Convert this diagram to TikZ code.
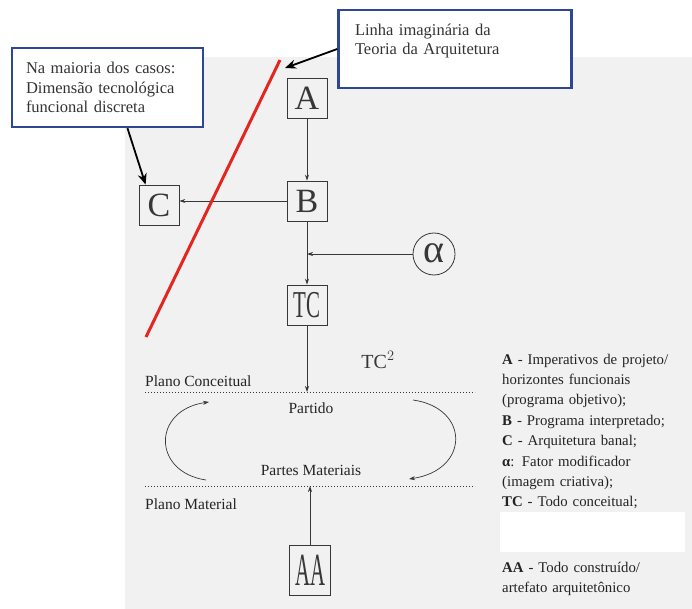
\documentclass[tikz,border=0pt]{standalone}
\usepackage{fontspec}
\setmainfont{Liberation Serif}
\usetikzlibrary{arrows.meta,positioning}

\tikzset{
	letterbox/.style={draw=inkColour, line width=0.8pt, inner sep=0pt, minimum width=40pt, minimum height=40pt, text=inkColour, font=\fontsize{34}{34}\selectfont},
	modifier/.style={circle, draw=inkColour, line width=0.8pt, inner sep=0pt, minimum size=42pt, text=inkColour, font=\fontsize{40}{40}\selectfont},
	callout/.style={draw=calloutColour, line width=2.5pt, fill=white, align=left, inner sep=0pt, text=black!80, font=\fontsize{16.5}{19.5}\selectfont},
	pointer/.style={black, line width=1.8pt, -{Stealth[length=11pt, width=9pt]}},
	flow/.style={draw=inkColour, line width=0.7pt, -{Stealth[length=6pt, width=4pt]}},
	planeline/.style={draw=inkColour, dotted, line width=1pt},
	planelabel/.style={inner sep=0pt, text=legendColour, font=\fontsize{15.5}{15.5}\selectfont},
	legend/.style={inner sep=0pt, align=left, text width=190pt, text=legendColour, font=\fontsize{14.8}{20.4}\selectfont}
}

\begin{document}
\begin{tikzpicture}[x=1pt, y=-1pt]
	\definecolor{calloutColour}{RGB}{45, 70, 150}
	\definecolor{lineColour}{RGB}{228, 38, 32}
	\definecolor{scanColour}{RGB}{241, 241, 241}
	\definecolor{inkColour}{RGB}{55, 55, 55}
	\definecolor{legendColour}{RGB}{35, 35, 35}

	\useasboundingbox (0, 0) rectangle (692, 609);
	\fill[scanColour] (125, 57) rectangle (692, 609);

	% diagram
	\node[letterbox] (A) at (307, 98) {A};
	\node[letterbox] (B) at (307, 201) {B};
	\node[letterbox] (C) at (159, 205) {C};
	\node[modifier] (alpha) at (434, 254) {\raisebox{2pt}{α}};
	\node[letterbox] (TC) at (307, 305) {\scalebox{0.55}[1]{\fontsize{38}{38}\selectfont TC}};
	\node[letterbox, minimum width=41pt, minimum height=50pt] (AA) at (310, 570) {\scalebox{0.45}[1]{\fontsize{46}{46}\selectfont AA}};
	\node[text=inkColour, font=\fontsize{20}{20}\selectfont] (tcSquared) at (378, 360) {TC$^2$};

	\draw[flow] (A) -- (B);
	\draw[flow] (B.west) -- (C.east |- B.west);
	\draw[flow] (B) -- (TC);
	\draw[flow] (alpha) -- (alpha -| B);

	% planes
	\coordinate (conceptLeft) at (145, 392);
	\coordinate (conceptRight) at (475, 392);
	\coordinate (materialLeft) at (145, 486);
	\coordinate (materialRight) at (475, 486);
	\draw[planeline] (conceptLeft) -- (conceptRight);
	\draw[planeline] (materialLeft) -- (materialRight);
	\node[planelabel, anchor=base west] (conceptLabel) at (145, 386) {Plano Conceitual};
	\node[planelabel, anchor=base west] (materialLabel) at (145, 509) {Plano Material};
	\node[planelabel] (partido) at (311, 408) {Partido};
	\node[planelabel] (partes) at (311, 470) {Partes Materiais};

	\draw[flow] (TC) -- (TC |- conceptLeft);
	\draw[flow] (AA) -- (AA |- materialLeft);

	\coordinate (loopLeftLow) at (206, 480);
	\coordinate (loopLeftHigh) at (209, 402);
	\coordinate (loopRightHigh) at (413, 400);
	\coordinate (loopRightLow) at (409, 479);
	\draw[flow] (loopLeftLow) .. controls (152, 472) and (152, 410) .. (loopLeftHigh);
	\draw[flow] (loopRightHigh) .. controls (470, 408) and (470, 470) .. (loopRightLow);

	% red line and callouts
	\coordinate (lineTop) at (280, 60);
	\coordinate (lineBottom) at (146, 337);
	\coordinate (lineTip) at (285, 68);
	\draw[lineColour, line width=3pt] (lineTop) -- (lineBottom);

	\node[callout, minimum width=191pt, minimum height=79pt, text width=163pt] (majority) at (107.5, 87.5) {Na maioria dos casos:\\Dimensão tecnológica\\funcional discreta};
	\node[callout, minimum width=233pt, minimum height=78pt, text width=200pt] (theoryNote) at (455, 49) {Linha imaginária da\\Teoria da Arquitetura\\\mbox{}};

	\draw[pointer] (theoryNote.west) -- (lineTip);
	\draw[pointer] ([xshift=20pt]majority.south) -- ([xshift=7pt]C.north west);

	% legend
	\node[legend, anchor=base west] (legendTop) at (502, 364) {\textbf{A} - Imperativos de projeto/\\horizontes funcionais\\(programa objetivo);\\\textbf{B} - Programa interpretado;\\\textbf{C} - Arquitetura banal;\\\textbf{α}: Fator modificador\\(imagem criativa);\\\textbf{TC} - Todo conceitual;};
	\fill[white] (500, 512) rectangle (685, 552);
	\node[legend, anchor=base west] (legendBottom) at (502, 572) {\textbf{AA} - Todo construído/\\artefato arquitetônico};
\end{tikzpicture}
\end{document}
